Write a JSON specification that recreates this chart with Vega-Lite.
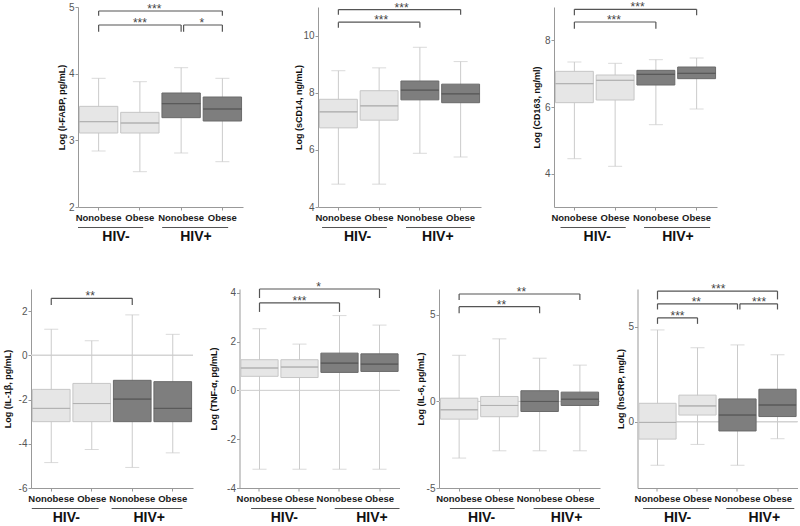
{
  "$schema": "https://vega.github.io/schema/vega-lite/v6.json",
  "padding": {"left": 3, "top": 1, "right": 0, "bottom": 0},
  "config": {
    "view": {"stroke": null},
    "font": "Liberation Sans",
    "axis": {"domainColor": "#999", "tickColor": "#999", "grid": false, "tickSize": 3},
    "axisX": {"labelFontSize": 9.5, "labelFontWeight": "bold", "labelColor": "#1a1a1a", "labelPadding": 2, "labelAngle": 0},
    "axisY": {"labelFontSize": 10, "labelColor": "#555", "labelPadding": 1, "labelExpr": "'' + datum.value", "titleFontSize": 9, "titleFontWeight": "bold", "titleColor": "#111", "titleBaseline": "middle"}
  },
  "datasets": {
    "boxes": [
      {"panel": "ifabp", "grp": "HIV- Nonobese", "hiv": "HIV-", "lo": 2.84, "q1": 3.11, "med": 3.28, "q3": 3.51, "hi": 3.93},
      {"panel": "ifabp", "grp": "HIV- Obese", "hiv": "HIV-", "lo": 2.53, "q1": 3.11, "med": 3.26, "q3": 3.42, "hi": 3.88},
      {"panel": "ifabp", "grp": "HIV+ Nonobese", "hiv": "HIV+", "lo": 2.81, "q1": 3.34, "med": 3.55, "q3": 3.71, "hi": 4.09},
      {"panel": "ifabp", "grp": "HIV+ Obese", "hiv": "HIV+", "lo": 2.68, "q1": 3.29, "med": 3.47, "q3": 3.65, "hi": 3.93},
      {"panel": "scd14", "grp": "HIV- Nonobese", "hiv": "HIV-", "lo": 4.80, "q1": 6.77, "med": 7.33, "q3": 7.77, "hi": 8.77},
      {"panel": "scd14", "grp": "HIV- Obese", "hiv": "HIV-", "lo": 4.80, "q1": 7.04, "med": 7.54, "q3": 8.07, "hi": 8.87},
      {"panel": "scd14", "grp": "HIV+ Nonobese", "hiv": "HIV+", "lo": 5.88, "q1": 7.75, "med": 8.09, "q3": 8.41, "hi": 9.59},
      {"panel": "scd14", "grp": "HIV+ Obese", "hiv": "HIV+", "lo": 5.75, "q1": 7.65, "med": 7.96, "q3": 8.30, "hi": 9.09},
      {"panel": "cd163", "grp": "HIV- Nonobese", "hiv": "HIV-", "lo": 4.45, "q1": 6.13, "med": 6.70, "q3": 7.07, "hi": 7.35},
      {"panel": "cd163", "grp": "HIV- Obese", "hiv": "HIV-", "lo": 4.22, "q1": 6.21, "med": 6.80, "q3": 6.96, "hi": 7.31},
      {"panel": "cd163", "grp": "HIV+ Nonobese", "hiv": "HIV+", "lo": 5.47, "q1": 6.66, "med": 6.98, "q3": 7.10, "hi": 7.42},
      {"panel": "cd163", "grp": "HIV+ Obese", "hiv": "HIV+", "lo": 5.94, "q1": 6.85, "med": 7.01, "q3": 7.20, "hi": 7.47},
      {"panel": "il1b", "grp": "HIV- Nonobese", "hiv": "HIV-", "lo": -4.85, "q1": -3.0, "med": -2.40, "q3": -1.54, "hi": 1.18},
      {"panel": "il1b", "grp": "HIV- Obese", "hiv": "HIV-", "lo": -4.26, "q1": -3.0, "med": -2.18, "q3": -1.27, "hi": 0.66},
      {"panel": "il1b", "grp": "HIV+ Nonobese", "hiv": "HIV+", "lo": -5.07, "q1": -3.0, "med": -1.98, "q3": -1.13, "hi": 1.83},
      {"panel": "il1b", "grp": "HIV+ Obese", "hiv": "HIV+", "lo": -4.41, "q1": -3.0, "med": -2.40, "q3": -1.19, "hi": 0.95},
      {"panel": "tnf", "grp": "HIV- Nonobese", "hiv": "HIV-", "lo": -3.23, "q1": 0.58, "med": 0.92, "q3": 1.26, "hi": 2.53},
      {"panel": "tnf", "grp": "HIV- Obese", "hiv": "HIV-", "lo": -3.23, "q1": 0.53, "med": 0.96, "q3": 1.26, "hi": 1.90},
      {"panel": "tnf", "grp": "HIV+ Nonobese", "hiv": "HIV+", "lo": -3.23, "q1": 0.74, "med": 1.12, "q3": 1.53, "hi": 3.07},
      {"panel": "tnf", "grp": "HIV+ Obese", "hiv": "HIV+", "lo": -3.23, "q1": 0.78, "med": 1.08, "q3": 1.50, "hi": 2.68},
      {"panel": "il6", "grp": "HIV- Nonobese", "hiv": "HIV-", "lo": -3.27, "q1": -1.02, "med": -0.48, "q3": 0.19, "hi": 2.67},
      {"panel": "il6", "grp": "HIV- Obese", "hiv": "HIV-", "lo": -2.85, "q1": -0.88, "med": -0.23, "q3": 0.29, "hi": 3.62},
      {"panel": "il6", "grp": "HIV+ Nonobese", "hiv": "HIV+", "lo": -2.85, "q1": -0.58, "med": 0.0, "q3": 0.62, "hi": 2.50},
      {"panel": "il6", "grp": "HIV+ Obese", "hiv": "HIV+", "lo": -2.85, "q1": -0.23, "med": 0.13, "q3": 0.54, "hi": 2.10},
      {"panel": "hscrp", "grp": "HIV- Nonobese", "hiv": "HIV-", "lo": -2.30, "q1": -0.92, "med": -0.04, "q3": 0.97, "hi": 4.84},
      {"panel": "hscrp", "grp": "HIV- Obese", "hiv": "HIV-", "lo": -1.20, "q1": 0.35, "med": 0.83, "q3": 1.40, "hi": 3.90},
      {"panel": "hscrp", "grp": "HIV+ Nonobese", "hiv": "HIV+", "lo": -2.30, "q1": -0.49, "med": 0.35, "q3": 1.20, "hi": 4.05},
      {"panel": "hscrp", "grp": "HIV+ Obese", "hiv": "HIV+", "lo": -0.90, "q1": 0.27, "med": 0.88, "q3": 1.71, "hi": 3.53}
    ],
    "brackets": [
      {"panel": "ifabp", "from": 0.5, "to": 3.5, "mid": 1.85, "level": 4.94, "foot": 4.87, "label": "***"},
      {"panel": "ifabp", "from": 0.5, "to": 2.5, "mid": 1.5, "level": 4.73, "foot": 4.63, "label": "***"},
      {"panel": "ifabp", "from": 2.56, "to": 3.5, "mid": 3.0, "level": 4.73, "foot": 4.63, "label": "*"},
      {"panel": "scd14", "from": 0.5, "to": 3.5, "mid": 2.05, "level": 10.91, "foot": 10.73, "label": "***"},
      {"panel": "scd14", "from": 0.5, "to": 2.5, "mid": 1.55, "level": 10.47, "foot": 10.27, "label": "***"},
      {"panel": "cd163", "from": 0.5, "to": 3.5, "mid": 2.05, "level": 8.93, "foot": 8.75, "label": "***"},
      {"panel": "cd163", "from": 0.5, "to": 2.5, "mid": 1.47, "level": 8.55, "foot": 8.35, "label": "***"},
      {"panel": "il1b", "from": 0.5, "to": 2.5, "mid": 1.46, "level": 2.58, "foot": 2.28, "label": "**"},
      {"panel": "tnf", "from": 0.5, "to": 3.5, "mid": 1.98, "level": 4.16, "foot": 3.79, "label": "*"},
      {"panel": "tnf", "from": 0.5, "to": 2.5, "mid": 1.5, "level": 3.59, "foot": 3.22, "label": "***"},
      {"panel": "il6", "from": 0.5, "to": 3.5, "mid": 2.05, "level": 6.21, "foot": 5.87, "label": "**"},
      {"panel": "il6", "from": 0.5, "to": 2.5, "mid": 1.55, "level": 5.48, "foot": 5.10, "label": "**"},
      {"panel": "hscrp", "from": 0.5, "to": 3.5, "mid": 2.02, "level": 6.89, "foot": 6.45, "label": "***"},
      {"panel": "hscrp", "from": 0.5, "to": 2.5, "mid": 1.47, "level": 6.22, "foot": 5.92, "label": "**"},
      {"panel": "hscrp", "from": 2.56, "to": 3.5, "mid": 3.04, "level": 6.22, "foot": 5.92, "label": "***"},
      {"panel": "hscrp", "from": 0.5, "to": 1.5, "mid": 1.0, "level": 5.48, "foot": 5.16, "label": "***"}
    ],
    "groups": [
      {"panel": "ifabp", "label": "HIV-", "from": 0.0, "to": 1.58, "mid": 0.92},
      {"panel": "ifabp", "label": "HIV+", "from": 2.04, "to": 3.64, "mid": 2.86},
      {"panel": "scd14", "label": "HIV-", "from": 0.1, "to": 1.69, "mid": 0.97},
      {"panel": "scd14", "label": "HIV+", "from": 2.16, "to": 3.75, "mid": 2.94},
      {"panel": "cd163", "label": "HIV-", "from": 0.16, "to": 1.76, "mid": 1.06},
      {"panel": "cd163", "label": "HIV+", "from": 2.21, "to": 3.83, "mid": 3.04},
      {"panel": "il1b", "label": "HIV-", "from": 0.02, "to": 1.67, "mid": 0.87},
      {"panel": "il1b", "label": "HIV+", "from": 1.99, "to": 3.74, "mid": 2.92},
      {"panel": "tnf", "label": "HIV-", "from": 0.29, "to": 1.92, "mid": 1.12},
      {"panel": "tnf", "label": "HIV+", "from": 2.38, "to": 4.0, "mid": 3.31},
      {"panel": "il6", "label": "HIV-", "from": 0.27, "to": 1.88, "mid": 1.06},
      {"panel": "il6", "label": "HIV+", "from": 2.35, "to": 4.0, "mid": 3.17},
      {"panel": "hscrp", "label": "HIV-", "from": 0.14, "to": 1.79, "mid": 1.0},
      {"panel": "hscrp", "label": "HIV+", "from": 2.22, "to": 3.92, "mid": 3.17}
    ]
  },
  "spacing": 37,
  "vconcat": [
    {
      "spacing": 0,
      "hconcat": [
        {"width": 26, "height": 10, "data": {"values": []}, "mark": "point"},
        {
          "spacing": 51,
          "hconcat": [
            {
              "spacing": 0,
              "vconcat": [
                {
                  "width": 165, "height": 200,
                  "resolve": {"scale": {"x": "independent"}},
                  "layer": [
                    {
                      "data": {"name": "boxes"},
                      "transform": [{"filter": "datum.panel === 'ifabp'"}],
                      "encoding": {"x": {"field": "grp", "type": "nominal", "scale": {"domain": ["HIV- Nonobese", "HIV- Obese", "HIV+ Nonobese", "HIV+ Obese"], "paddingInner": 0.07, "paddingOuter": 0.035}, "axis": {"labelExpr": "split(datum.label, ' ')[1]", "title": null}}},
                      "layer": [
                        {"mark": {"type": "rule", "color": "#cbcbcb"}, "encoding": {"y": {"field": "lo", "type": "quantitative", "scale": {"domain": [2, 5], "nice": false, "zero": false}, "axis": {"values": [2, 3, 4, 5], "title": "Log (I-FABP, pg/mL)", "titleX": -16.3}}, "y2": {"field": "hi"}}},
                        {"mark": {"type": "tick", "color": "#cbcbcb", "thickness": 1, "size": 14}, "encoding": {"y": {"field": "lo", "type": "quantitative"}}},
                        {"mark": {"type": "tick", "color": "#cbcbcb", "thickness": 1, "size": 14}, "encoding": {"y": {"field": "hi", "type": "quantitative"}}},
                        {"mark": {"type": "bar", "strokeWidth": 1}, "encoding": {"y": {"field": "q1", "type": "quantitative"}, "y2": {"field": "q3"}, "fill": {"field": "hiv", "type": "nominal", "scale": {"domain": ["HIV-", "HIV+"], "range": ["#e6e6e6", "#7e7e7e"]}, "legend": null}, "stroke": {"field": "hiv", "type": "nominal", "scale": {"domain": ["HIV-", "HIV+"], "range": ["#c6c6c6", "#6a6a6a"]}, "legend": null}}},
                        {"mark": {"type": "bar", "filled": false, "strokeWidth": 1}, "encoding": {"y": {"field": "med", "type": "quantitative"}, "y2": {"field": "med"}, "color": {"field": "hiv", "type": "nominal", "scale": {"domain": ["HIV-", "HIV+"], "range": ["#b2b2b2", "#5a5a5a"]}, "legend": null}}}
                      ]
                    },
                    {
                      "data": {"name": "brackets"},
                      "transform": [{"filter": "datum.panel === 'ifabp'"}],
                      "encoding": {"x": {"field": "from", "type": "quantitative", "scale": {"domain": [0, 4]}, "axis": null}},
                      "layer": [
                        {"mark": {"type": "rule", "color": "#555", "strokeWidth": 1.2}, "encoding": {"x2": {"field": "to"}, "y": {"field": "level", "type": "quantitative"}}},
                        {"mark": {"type": "rule", "color": "#555", "strokeWidth": 1.2}, "encoding": {"y": {"field": "foot", "type": "quantitative"}, "y2": {"field": "level"}}},
                        {"mark": {"type": "rule", "color": "#555", "strokeWidth": 1.2}, "encoding": {"x": {"field": "to", "type": "quantitative"}, "y": {"field": "foot", "type": "quantitative"}, "y2": {"field": "level"}}},
                        {"mark": {"type": "text", "fontSize": 12, "baseline": "alphabetic", "dy": 2, "color": "#444"}, "encoding": {"x": {"field": "mid", "type": "quantitative"}, "y": {"field": "level", "type": "quantitative"}, "text": {"field": "label"}}}
                      ]
                    }
                  ]
                },
                {
                  "width": 165, "height": 11,
                  "data": {"name": "groups"},
                  "transform": [{"filter": "datum.panel === 'ifabp'"}],
                  "layer": [
                    {"mark": {"type": "rule", "color": "#555"}, "encoding": {"x": {"field": "from", "type": "quantitative", "scale": {"domain": [0, 4]}, "axis": null}, "x2": {"field": "to"}}},
                    {"mark": {"type": "text", "fontSize": 14, "fontWeight": "bold", "baseline": "middle", "dy": 9, "color": "#111"}, "encoding": {"x": {"field": "mid", "type": "quantitative"}, "text": {"field": "label"}}}
                  ]
                }
              ]
            },
            {
              "spacing": 0,
              "vconcat": [
                {
                  "width": 163, "height": 200,
                  "resolve": {"scale": {"x": "independent"}},
                  "layer": [
                    {
                      "data": {"name": "boxes"},
                      "transform": [{"filter": "datum.panel === 'scd14'"}],
                      "encoding": {"x": {"field": "grp", "type": "nominal", "scale": {"domain": ["HIV- Nonobese", "HIV- Obese", "HIV+ Nonobese", "HIV+ Obese"], "paddingInner": 0.07, "paddingOuter": 0.035}, "axis": {"labelExpr": "split(datum.label, ' ')[1]", "title": null}}},
                      "layer": [
                        {"mark": {"type": "rule", "color": "#cbcbcb"}, "encoding": {"y": {"field": "lo", "type": "quantitative", "scale": {"domain": [4, 11], "nice": false, "zero": false}, "axis": {"values": [4, 6, 8, 10], "title": "Log (sCD14, ng/mL)", "titleX": -19.5}}, "y2": {"field": "hi"}}},
                        {"mark": {"type": "tick", "color": "#cbcbcb", "thickness": 1, "size": 14}, "encoding": {"y": {"field": "lo", "type": "quantitative"}}},
                        {"mark": {"type": "tick", "color": "#cbcbcb", "thickness": 1, "size": 14}, "encoding": {"y": {"field": "hi", "type": "quantitative"}}},
                        {"mark": {"type": "bar", "strokeWidth": 1}, "encoding": {"y": {"field": "q1", "type": "quantitative"}, "y2": {"field": "q3"}, "fill": {"field": "hiv", "type": "nominal", "scale": {"domain": ["HIV-", "HIV+"], "range": ["#e6e6e6", "#7e7e7e"]}, "legend": null}, "stroke": {"field": "hiv", "type": "nominal", "scale": {"domain": ["HIV-", "HIV+"], "range": ["#c6c6c6", "#6a6a6a"]}, "legend": null}}},
                        {"mark": {"type": "bar", "filled": false, "strokeWidth": 1}, "encoding": {"y": {"field": "med", "type": "quantitative"}, "y2": {"field": "med"}, "color": {"field": "hiv", "type": "nominal", "scale": {"domain": ["HIV-", "HIV+"], "range": ["#b2b2b2", "#5a5a5a"]}, "legend": null}}}
                      ]
                    },
                    {
                      "data": {"name": "brackets"},
                      "transform": [{"filter": "datum.panel === 'scd14'"}],
                      "encoding": {"x": {"field": "from", "type": "quantitative", "scale": {"domain": [0, 4]}, "axis": null}},
                      "layer": [
                        {"mark": {"type": "rule", "color": "#555", "strokeWidth": 1.2}, "encoding": {"x2": {"field": "to"}, "y": {"field": "level", "type": "quantitative"}}},
                        {"mark": {"type": "rule", "color": "#555", "strokeWidth": 1.2}, "encoding": {"y": {"field": "foot", "type": "quantitative"}, "y2": {"field": "level"}}},
                        {"mark": {"type": "rule", "color": "#555", "strokeWidth": 1.2}, "encoding": {"x": {"field": "to", "type": "quantitative"}, "y": {"field": "foot", "type": "quantitative"}, "y2": {"field": "level"}}},
                        {"mark": {"type": "text", "fontSize": 12, "baseline": "alphabetic", "dy": 2, "color": "#444"}, "encoding": {"x": {"field": "mid", "type": "quantitative"}, "y": {"field": "level", "type": "quantitative"}, "text": {"field": "label"}}}
                      ]
                    }
                  ]
                },
                {
                  "width": 163, "height": 11,
                  "data": {"name": "groups"},
                  "transform": [{"filter": "datum.panel === 'scd14'"}],
                  "layer": [
                    {"mark": {"type": "rule", "color": "#555"}, "encoding": {"x": {"field": "from", "type": "quantitative", "scale": {"domain": [0, 4]}, "axis": null}, "x2": {"field": "to"}}},
                    {"mark": {"type": "text", "fontSize": 14, "fontWeight": "bold", "baseline": "middle", "dy": 9, "color": "#111"}, "encoding": {"x": {"field": "mid", "type": "quantitative"}, "text": {"field": "label"}}}
                  ]
                }
              ]
            },
            {
              "spacing": 0,
              "vconcat": [
                {
                  "width": 163, "height": 200,
                  "resolve": {"scale": {"x": "independent"}},
                  "layer": [
                    {
                      "data": {"name": "boxes"},
                      "transform": [{"filter": "datum.panel === 'cd163'"}],
                      "encoding": {"x": {"field": "grp", "type": "nominal", "scale": {"domain": ["HIV- Nonobese", "HIV- Obese", "HIV+ Nonobese", "HIV+ Obese"], "paddingInner": 0.07, "paddingOuter": 0.035}, "axis": {"labelExpr": "split(datum.label, ' ')[1]", "title": null}}},
                      "layer": [
                        {"mark": {"type": "rule", "color": "#cbcbcb"}, "encoding": {"y": {"field": "lo", "type": "quantitative", "scale": {"domain": [3, 9], "nice": false, "zero": false}, "axis": {"values": [4, 6, 8], "title": "Log (CD163, ng/ml)", "titleX": -18}}, "y2": {"field": "hi"}}},
                        {"mark": {"type": "tick", "color": "#cbcbcb", "thickness": 1, "size": 14}, "encoding": {"y": {"field": "lo", "type": "quantitative"}}},
                        {"mark": {"type": "tick", "color": "#cbcbcb", "thickness": 1, "size": 14}, "encoding": {"y": {"field": "hi", "type": "quantitative"}}},
                        {"mark": {"type": "bar", "strokeWidth": 1}, "encoding": {"y": {"field": "q1", "type": "quantitative"}, "y2": {"field": "q3"}, "fill": {"field": "hiv", "type": "nominal", "scale": {"domain": ["HIV-", "HIV+"], "range": ["#e6e6e6", "#7e7e7e"]}, "legend": null}, "stroke": {"field": "hiv", "type": "nominal", "scale": {"domain": ["HIV-", "HIV+"], "range": ["#c6c6c6", "#6a6a6a"]}, "legend": null}}},
                        {"mark": {"type": "bar", "filled": false, "strokeWidth": 1}, "encoding": {"y": {"field": "med", "type": "quantitative"}, "y2": {"field": "med"}, "color": {"field": "hiv", "type": "nominal", "scale": {"domain": ["HIV-", "HIV+"], "range": ["#b2b2b2", "#5a5a5a"]}, "legend": null}}}
                      ]
                    },
                    {
                      "data": {"name": "brackets"},
                      "transform": [{"filter": "datum.panel === 'cd163'"}],
                      "encoding": {"x": {"field": "from", "type": "quantitative", "scale": {"domain": [0, 4]}, "axis": null}},
                      "layer": [
                        {"mark": {"type": "rule", "color": "#555", "strokeWidth": 1.2}, "encoding": {"x2": {"field": "to"}, "y": {"field": "level", "type": "quantitative"}}},
                        {"mark": {"type": "rule", "color": "#555", "strokeWidth": 1.2}, "encoding": {"y": {"field": "foot", "type": "quantitative"}, "y2": {"field": "level"}}},
                        {"mark": {"type": "rule", "color": "#555", "strokeWidth": 1.2}, "encoding": {"x": {"field": "to", "type": "quantitative"}, "y": {"field": "foot", "type": "quantitative"}, "y2": {"field": "level"}}},
                        {"mark": {"type": "text", "fontSize": 12, "baseline": "alphabetic", "dy": 2, "color": "#444"}, "encoding": {"x": {"field": "mid", "type": "quantitative"}, "y": {"field": "level", "type": "quantitative"}, "text": {"field": "label"}}}
                      ]
                    }
                  ]
                },
                {
                  "width": 163, "height": 11,
                  "data": {"name": "groups"},
                  "transform": [{"filter": "datum.panel === 'cd163'"}],
                  "layer": [
                    {"mark": {"type": "rule", "color": "#555"}, "encoding": {"x": {"field": "from", "type": "quantitative", "scale": {"domain": [0, 4]}, "axis": null}, "x2": {"field": "to"}}},
                    {"mark": {"type": "text", "fontSize": 14, "fontWeight": "bold", "baseline": "middle", "dy": 9, "color": "#111"}, "encoding": {"x": {"field": "mid", "type": "quantitative"}, "text": {"field": "label"}}}
                  ]
                }
              ]
            }
          ]
        }
      ]
    },
    {
      "spacing": 15.5,
      "hconcat": [
        {
          "spacing": 0,
          "vconcat": [
            {
              "width": 162, "height": 199,
              "resolve": {"scale": {"x": "independent"}},
              "layer": [
                {
                  "data": {"name": "boxes"},
                  "transform": [{"filter": "datum.panel === 'il1b'"}],
                  "encoding": {"x": {"field": "grp", "type": "nominal", "scale": {"domain": ["HIV- Nonobese", "HIV- Obese", "HIV+ Nonobese", "HIV+ Obese"], "paddingInner": 0.07, "paddingOuter": 0.035}, "axis": {"labelExpr": "split(datum.label, ' ')[1]", "title": null}}},
                  "layer": [
                    {"mark": {"type": "rule", "color": "#d4d4d4"}, "encoding": {"x": null, "y": {"datum": 0, "type": "quantitative"}}},
                    {"mark": {"type": "rule", "color": "#cbcbcb"}, "encoding": {"y": {"field": "lo", "type": "quantitative", "scale": {"domain": [-6, 3], "nice": false, "zero": false}, "axis": {"values": [-6, -4, -2, 0, 2], "title": "Log (IL-1β, pg/mL)", "titleX": -23.4}}, "y2": {"field": "hi"}}},
                    {"mark": {"type": "tick", "color": "#cbcbcb", "thickness": 1, "size": 14}, "encoding": {"y": {"field": "lo", "type": "quantitative"}}},
                    {"mark": {"type": "tick", "color": "#cbcbcb", "thickness": 1, "size": 14}, "encoding": {"y": {"field": "hi", "type": "quantitative"}}},
                    {"mark": {"type": "bar", "strokeWidth": 1}, "encoding": {"y": {"field": "q1", "type": "quantitative"}, "y2": {"field": "q3"}, "fill": {"field": "hiv", "type": "nominal", "scale": {"domain": ["HIV-", "HIV+"], "range": ["#e6e6e6", "#7e7e7e"]}, "legend": null}, "stroke": {"field": "hiv", "type": "nominal", "scale": {"domain": ["HIV-", "HIV+"], "range": ["#c6c6c6", "#6a6a6a"]}, "legend": null}}},
                    {"mark": {"type": "bar", "filled": false, "strokeWidth": 1}, "encoding": {"y": {"field": "med", "type": "quantitative"}, "y2": {"field": "med"}, "color": {"field": "hiv", "type": "nominal", "scale": {"domain": ["HIV-", "HIV+"], "range": ["#b2b2b2", "#5a5a5a"]}, "legend": null}}}
                  ]
                },
                {
                  "data": {"name": "brackets"},
                  "transform": [{"filter": "datum.panel === 'il1b'"}],
                  "encoding": {"x": {"field": "from", "type": "quantitative", "scale": {"domain": [0, 4]}, "axis": null}},
                  "layer": [
                    {"mark": {"type": "rule", "color": "#555", "strokeWidth": 1.2}, "encoding": {"x2": {"field": "to"}, "y": {"field": "level", "type": "quantitative"}}},
                    {"mark": {"type": "rule", "color": "#555", "strokeWidth": 1.2}, "encoding": {"y": {"field": "foot", "type": "quantitative"}, "y2": {"field": "level"}}},
                    {"mark": {"type": "rule", "color": "#555", "strokeWidth": 1.2}, "encoding": {"x": {"field": "to", "type": "quantitative"}, "y": {"field": "foot", "type": "quantitative"}, "y2": {"field": "level"}}},
                    {"mark": {"type": "text", "fontSize": 12, "baseline": "alphabetic", "dy": 2, "color": "#444"}, "encoding": {"x": {"field": "mid", "type": "quantitative"}, "y": {"field": "level", "type": "quantitative"}, "text": {"field": "label"}}}
                  ]
                }
              ]
            },
            {
              "width": 162, "height": 11,
              "data": {"name": "groups"},
              "transform": [{"filter": "datum.panel === 'il1b'"}],
              "layer": [
                {"mark": {"type": "rule", "color": "#555"}, "encoding": {"x": {"field": "from", "type": "quantitative", "scale": {"domain": [0, 4]}, "axis": null}, "x2": {"field": "to"}}},
                {"mark": {"type": "text", "fontSize": 14, "fontWeight": "bold", "baseline": "middle", "dy": 9, "color": "#111"}, "encoding": {"x": {"field": "mid", "type": "quantitative"}, "text": {"field": "label"}}}
              ]
            }
          ]
        },
        {
          "spacing": 0,
          "vconcat": [
            {
              "width": 160, "height": 199,
              "resolve": {"scale": {"x": "independent"}},
              "layer": [
                {
                  "data": {"name": "boxes"},
                  "transform": [{"filter": "datum.panel === 'tnf'"}],
                  "encoding": {"x": {"field": "grp", "type": "nominal", "scale": {"domain": ["HIV- Nonobese", "HIV- Obese", "HIV+ Nonobese", "HIV+ Obese"], "paddingInner": 0.07, "paddingOuter": 0.035}, "axis": {"labelExpr": "split(datum.label, ' ')[1]", "title": null}}},
                  "layer": [
                    {"mark": {"type": "rule", "color": "#d4d4d4"}, "encoding": {"x": null, "y": {"datum": 0, "type": "quantitative"}}},
                    {"mark": {"type": "rule", "color": "#cbcbcb"}, "encoding": {"y": {"field": "lo", "type": "quantitative", "scale": {"domain": [-4, 4.16], "nice": false, "zero": false}, "axis": {"values": [-4, -2, 0, 2, 4], "title": "Log (TNF-α, pg/mL)", "titleX": -26}}, "y2": {"field": "hi"}}},
                    {"mark": {"type": "tick", "color": "#cbcbcb", "thickness": 1, "size": 14}, "encoding": {"y": {"field": "lo", "type": "quantitative"}}},
                    {"mark": {"type": "tick", "color": "#cbcbcb", "thickness": 1, "size": 14}, "encoding": {"y": {"field": "hi", "type": "quantitative"}}},
                    {"mark": {"type": "bar", "strokeWidth": 1}, "encoding": {"y": {"field": "q1", "type": "quantitative"}, "y2": {"field": "q3"}, "fill": {"field": "hiv", "type": "nominal", "scale": {"domain": ["HIV-", "HIV+"], "range": ["#e6e6e6", "#7e7e7e"]}, "legend": null}, "stroke": {"field": "hiv", "type": "nominal", "scale": {"domain": ["HIV-", "HIV+"], "range": ["#c6c6c6", "#6a6a6a"]}, "legend": null}}},
                    {"mark": {"type": "bar", "filled": false, "strokeWidth": 1}, "encoding": {"y": {"field": "med", "type": "quantitative"}, "y2": {"field": "med"}, "color": {"field": "hiv", "type": "nominal", "scale": {"domain": ["HIV-", "HIV+"], "range": ["#b2b2b2", "#5a5a5a"]}, "legend": null}}}
                  ]
                },
                {
                  "data": {"name": "brackets"},
                  "transform": [{"filter": "datum.panel === 'tnf'"}],
                  "encoding": {"x": {"field": "from", "type": "quantitative", "scale": {"domain": [0, 4]}, "axis": null}},
                  "layer": [
                    {"mark": {"type": "rule", "color": "#555", "strokeWidth": 1.2}, "encoding": {"x2": {"field": "to"}, "y": {"field": "level", "type": "quantitative"}}},
                    {"mark": {"type": "rule", "color": "#555", "strokeWidth": 1.2}, "encoding": {"y": {"field": "foot", "type": "quantitative"}, "y2": {"field": "level"}}},
                    {"mark": {"type": "rule", "color": "#555", "strokeWidth": 1.2}, "encoding": {"x": {"field": "to", "type": "quantitative"}, "y": {"field": "foot", "type": "quantitative"}, "y2": {"field": "level"}}},
                    {"mark": {"type": "text", "fontSize": 12, "baseline": "alphabetic", "dy": 2, "color": "#444"}, "encoding": {"x": {"field": "mid", "type": "quantitative"}, "y": {"field": "level", "type": "quantitative"}, "text": {"field": "label"}}}
                  ]
                }
              ]
            },
            {
              "width": 160, "height": 11,
              "data": {"name": "groups"},
              "transform": [{"filter": "datum.panel === 'tnf'"}],
              "layer": [
                {"mark": {"type": "rule", "color": "#555"}, "encoding": {"x": {"field": "from", "type": "quantitative", "scale": {"domain": [0, 4]}, "axis": null}, "x2": {"field": "to"}}},
                {"mark": {"type": "text", "fontSize": 14, "fontWeight": "bold", "baseline": "middle", "dy": 9, "color": "#111"}, "encoding": {"x": {"field": "mid", "type": "quantitative"}, "text": {"field": "label"}}}
              ]
            }
          ]
        },
        {
          "spacing": 0,
          "vconcat": [
            {
              "width": 161, "height": 199,
              "resolve": {"scale": {"x": "independent"}},
              "layer": [
                {
                  "data": {"name": "boxes"},
                  "transform": [{"filter": "datum.panel === 'il6'"}],
                  "encoding": {"x": {"field": "grp", "type": "nominal", "scale": {"domain": ["HIV- Nonobese", "HIV- Obese", "HIV+ Nonobese", "HIV+ Obese"], "paddingInner": 0.07, "paddingOuter": 0.035}, "axis": {"labelExpr": "split(datum.label, ' ')[1]", "title": null}}},
                  "layer": [
                    {"mark": {"type": "rule", "color": "#d4d4d4"}, "encoding": {"x": null, "y": {"datum": 0, "type": "quantitative"}}},
                    {"mark": {"type": "rule", "color": "#cbcbcb"}, "encoding": {"y": {"field": "lo", "type": "quantitative", "scale": {"domain": [-5, 6.5], "nice": false, "zero": false}, "axis": {"values": [-5, 0, 5], "title": "Log (IL-6, pg/mL)", "titleX": -18.6}}, "y2": {"field": "hi"}}},
                    {"mark": {"type": "tick", "color": "#cbcbcb", "thickness": 1, "size": 14}, "encoding": {"y": {"field": "lo", "type": "quantitative"}}},
                    {"mark": {"type": "tick", "color": "#cbcbcb", "thickness": 1, "size": 14}, "encoding": {"y": {"field": "hi", "type": "quantitative"}}},
                    {"mark": {"type": "bar", "strokeWidth": 1}, "encoding": {"y": {"field": "q1", "type": "quantitative"}, "y2": {"field": "q3"}, "fill": {"field": "hiv", "type": "nominal", "scale": {"domain": ["HIV-", "HIV+"], "range": ["#e6e6e6", "#7e7e7e"]}, "legend": null}, "stroke": {"field": "hiv", "type": "nominal", "scale": {"domain": ["HIV-", "HIV+"], "range": ["#c6c6c6", "#6a6a6a"]}, "legend": null}}},
                    {"mark": {"type": "bar", "filled": false, "strokeWidth": 1}, "encoding": {"y": {"field": "med", "type": "quantitative"}, "y2": {"field": "med"}, "color": {"field": "hiv", "type": "nominal", "scale": {"domain": ["HIV-", "HIV+"], "range": ["#b2b2b2", "#5a5a5a"]}, "legend": null}}}
                  ]
                },
                {
                  "data": {"name": "brackets"},
                  "transform": [{"filter": "datum.panel === 'il6'"}],
                  "encoding": {"x": {"field": "from", "type": "quantitative", "scale": {"domain": [0, 4]}, "axis": null}},
                  "layer": [
                    {"mark": {"type": "rule", "color": "#555", "strokeWidth": 1.2}, "encoding": {"x2": {"field": "to"}, "y": {"field": "level", "type": "quantitative"}}},
                    {"mark": {"type": "rule", "color": "#555", "strokeWidth": 1.2}, "encoding": {"y": {"field": "foot", "type": "quantitative"}, "y2": {"field": "level"}}},
                    {"mark": {"type": "rule", "color": "#555", "strokeWidth": 1.2}, "encoding": {"x": {"field": "to", "type": "quantitative"}, "y": {"field": "foot", "type": "quantitative"}, "y2": {"field": "level"}}},
                    {"mark": {"type": "text", "fontSize": 12, "baseline": "alphabetic", "dy": 2, "color": "#444"}, "encoding": {"x": {"field": "mid", "type": "quantitative"}, "y": {"field": "level", "type": "quantitative"}, "text": {"field": "label"}}}
                  ]
                }
              ]
            },
            {
              "width": 161, "height": 11,
              "data": {"name": "groups"},
              "transform": [{"filter": "datum.panel === 'il6'"}],
              "layer": [
                {"mark": {"type": "rule", "color": "#555"}, "encoding": {"x": {"field": "from", "type": "quantitative", "scale": {"domain": [0, 4]}, "axis": null}, "x2": {"field": "to"}}},
                {"mark": {"type": "text", "fontSize": 14, "fontWeight": "bold", "baseline": "middle", "dy": 9, "color": "#111"}, "encoding": {"x": {"field": "mid", "type": "quantitative"}, "text": {"field": "label"}}}
              ]
            }
          ]
        },
        {
          "spacing": 0,
          "vconcat": [
            {
              "width": 160, "height": 199,
              "resolve": {"scale": {"x": "independent"}},
              "layer": [
                {
                  "data": {"name": "boxes"},
                  "transform": [{"filter": "datum.panel === 'hscrp'"}],
                  "encoding": {"x": {"field": "grp", "type": "nominal", "scale": {"domain": ["HIV- Nonobese", "HIV- Obese", "HIV+ Nonobese", "HIV+ Obese"], "paddingInner": 0.07, "paddingOuter": 0.035}, "axis": {"labelExpr": "split(datum.label, ' ')[1]", "title": null}}},
                  "layer": [
                    {"mark": {"type": "rule", "color": "#d4d4d4"}, "encoding": {"x": null, "y": {"datum": 0, "type": "quantitative"}}},
                    {"mark": {"type": "rule", "color": "#cbcbcb"}, "encoding": {"y": {"field": "lo", "type": "quantitative", "scale": {"domain": [-3.5, 7], "nice": false, "zero": false}, "axis": {"values": [0, 5], "title": "Log (hsCRP, mg/L)", "titleX": -16.7}}, "y2": {"field": "hi"}}},
                    {"mark": {"type": "tick", "color": "#cbcbcb", "thickness": 1, "size": 14}, "encoding": {"y": {"field": "lo", "type": "quantitative"}}},
                    {"mark": {"type": "tick", "color": "#cbcbcb", "thickness": 1, "size": 14}, "encoding": {"y": {"field": "hi", "type": "quantitative"}}},
                    {"mark": {"type": "bar", "strokeWidth": 1}, "encoding": {"y": {"field": "q1", "type": "quantitative"}, "y2": {"field": "q3"}, "fill": {"field": "hiv", "type": "nominal", "scale": {"domain": ["HIV-", "HIV+"], "range": ["#e6e6e6", "#7e7e7e"]}, "legend": null}, "stroke": {"field": "hiv", "type": "nominal", "scale": {"domain": ["HIV-", "HIV+"], "range": ["#c6c6c6", "#6a6a6a"]}, "legend": null}}},
                    {"mark": {"type": "bar", "filled": false, "strokeWidth": 1}, "encoding": {"y": {"field": "med", "type": "quantitative"}, "y2": {"field": "med"}, "color": {"field": "hiv", "type": "nominal", "scale": {"domain": ["HIV-", "HIV+"], "range": ["#b2b2b2", "#5a5a5a"]}, "legend": null}}}
                  ]
                },
                {
                  "data": {"name": "brackets"},
                  "transform": [{"filter": "datum.panel === 'hscrp'"}],
                  "encoding": {"x": {"field": "from", "type": "quantitative", "scale": {"domain": [0, 4]}, "axis": null}},
                  "layer": [
                    {"mark": {"type": "rule", "color": "#555", "strokeWidth": 1.2}, "encoding": {"x2": {"field": "to"}, "y": {"field": "level", "type": "quantitative"}}},
                    {"mark": {"type": "rule", "color": "#555", "strokeWidth": 1.2}, "encoding": {"y": {"field": "foot", "type": "quantitative"}, "y2": {"field": "level"}}},
                    {"mark": {"type": "rule", "color": "#555", "strokeWidth": 1.2}, "encoding": {"x": {"field": "to", "type": "quantitative"}, "y": {"field": "foot", "type": "quantitative"}, "y2": {"field": "level"}}},
                    {"mark": {"type": "text", "fontSize": 12, "baseline": "alphabetic", "dy": 2, "color": "#444"}, "encoding": {"x": {"field": "mid", "type": "quantitative"}, "y": {"field": "level", "type": "quantitative"}, "text": {"field": "label"}}}
                  ]
                }
              ]
            },
            {
              "width": 160, "height": 11,
              "data": {"name": "groups"},
              "transform": [{"filter": "datum.panel === 'hscrp'"}],
              "layer": [
                {"mark": {"type": "rule", "color": "#555"}, "encoding": {"x": {"field": "from", "type": "quantitative", "scale": {"domain": [0, 4]}, "axis": null}, "x2": {"field": "to"}}},
                {"mark": {"type": "text", "fontSize": 14, "fontWeight": "bold", "baseline": "middle", "dy": 9, "color": "#111"}, "encoding": {"x": {"field": "mid", "type": "quantitative"}, "text": {"field": "label"}}}
              ]
            }
          ]
        }
      ]
    }
  ]
}
